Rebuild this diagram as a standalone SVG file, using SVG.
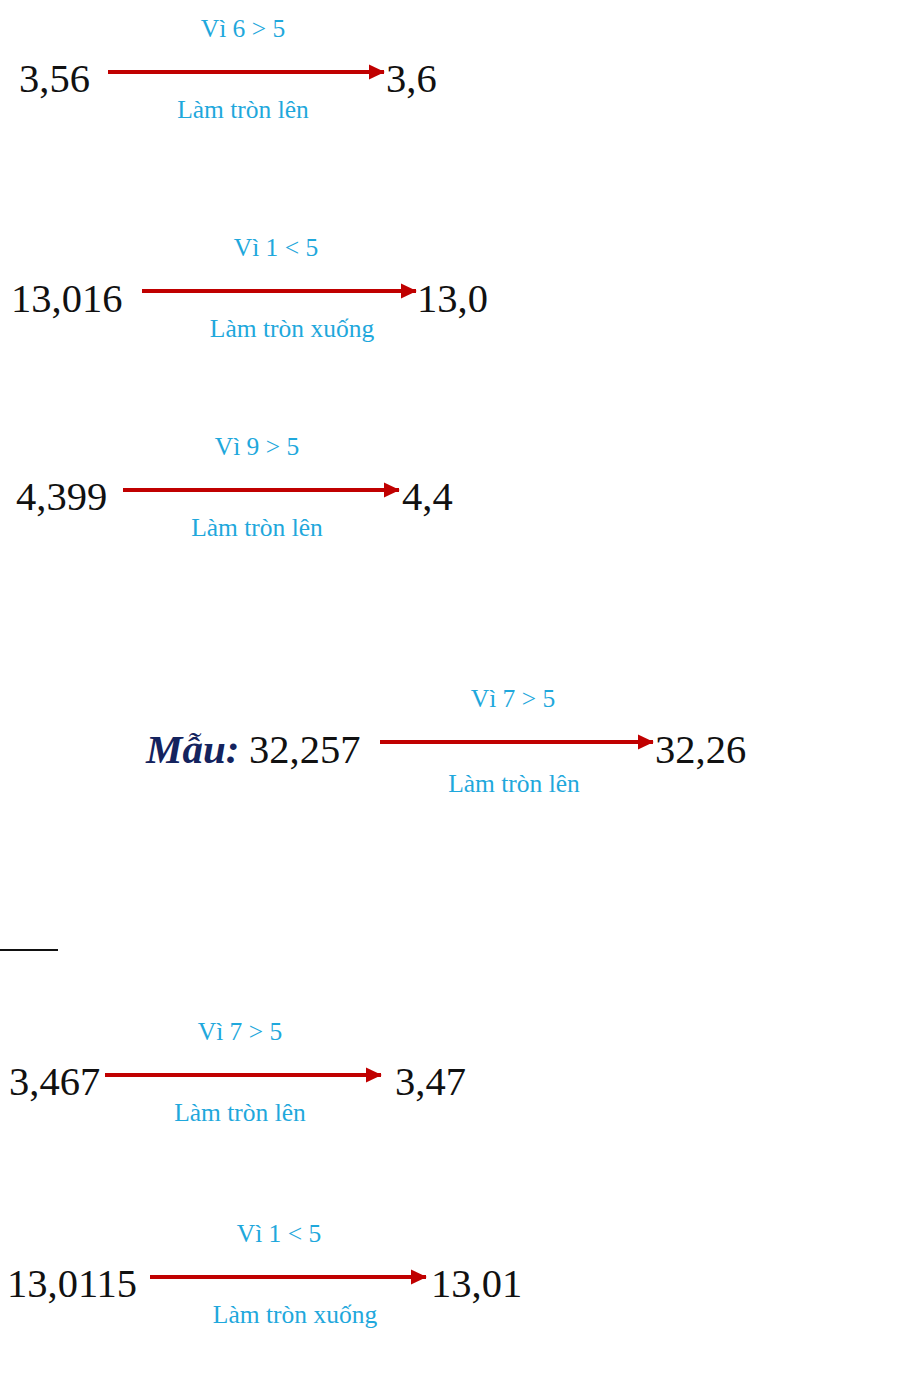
<svg xmlns="http://www.w3.org/2000/svg" width="903" height="1396" viewBox="0 0 903 1396">
<style>
.num{font-family:"Liberation Serif","Times New Roman",serif;font-size:40.5px;fill:#111}
.lbl{font-family:"Liberation Serif","Times New Roman",serif;font-size:25.5px;fill:#1fa8dc}
.mau{font-family:"Liberation Serif","Times New Roman",serif;font-size:41px;font-weight:bold;font-style:italic;fill:#14235e}
.arr{stroke:#c00000;stroke-width:4;fill:none;marker-end:url(#ah)}
</style>
<defs>
<marker id="ah" markerWidth="5" markerHeight="5" refX="3.8" refY="2.5" orient="auto" markerUnits="strokeWidth">
<path d="M0,0.6 L4,2.5 L0,4.4 Z" fill="#c00000"/>
</marker>
</defs>
<rect width="903" height="1396" fill="#fff"/>
<g id="connectors">
<line class="arr" x1="108" y1="72" x2="384" y2="72"/>
<line class="arr" x1="142" y1="291" x2="416" y2="291"/>
<line class="arr" x1="123" y1="490" x2="399" y2="490"/>
<line class="arr" x1="380" y1="742" x2="653" y2="742"/>
<line class="arr" x1="105" y1="1075" x2="381" y2="1075"/>
<line class="arr" x1="150" y1="1277" x2="426" y2="1277"/>
</g>
<g id="row1">
<text class="num" x="19" y="92">3,56</text>
<text class="num" x="386" y="92">3,6</text>
<text class="lbl" x="243" y="37" text-anchor="middle">Vì 6 &gt; 5</text>
<text class="lbl" x="243" y="118" text-anchor="middle">Làm tròn lên</text>
</g>
<g id="row2">
<text class="num" x="11" y="312">13,016</text>
<text class="num" x="417" y="312">13,0</text>
<text class="lbl" x="276" y="256" text-anchor="middle">Vì 1 &lt; 5</text>
<text class="lbl" x="292" y="337" text-anchor="middle">Làm tròn xuống</text>
</g>
<g id="row3">
<text class="num" x="16" y="510">4,399</text>
<text class="num" x="402" y="510">4,4</text>
<text class="lbl" x="257" y="455" text-anchor="middle">Vì 9 &gt; 5</text>
<text class="lbl" x="257" y="536" text-anchor="middle">Làm tròn lên</text>
</g>
<g id="row4">
<text class="mau" x="146" y="763">Mẫu:</text>
<text class="num" x="249" y="763">32,257</text>
<text class="num" x="655" y="763">32,26</text>
<text class="lbl" x="513" y="707" text-anchor="middle">Vì 7 &gt; 5</text>
<text class="lbl" x="514" y="792" text-anchor="middle">Làm tròn lên</text>
</g>
<g id="rule">
<line x1="0" y1="950" x2="58" y2="950" stroke="#111" stroke-width="2"/>
</g>
<g id="row5">
<text class="num" x="9" y="1095">3,467</text>
<text class="num" x="395" y="1095">3,47</text>
<text class="lbl" x="240" y="1040" text-anchor="middle">Vì 7 &gt; 5</text>
<text class="lbl" x="240" y="1121" text-anchor="middle">Làm tròn lên</text>
</g>
<g id="row6">
<text class="num" x="7" y="1297">13,0115</text>
<text class="num" x="431" y="1297">13,01</text>
<text class="lbl" x="279" y="1242" text-anchor="middle">Vì 1 &lt; 5</text>
<text class="lbl" x="295" y="1323" text-anchor="middle">Làm tròn xuống</text>
</g>
</svg>
